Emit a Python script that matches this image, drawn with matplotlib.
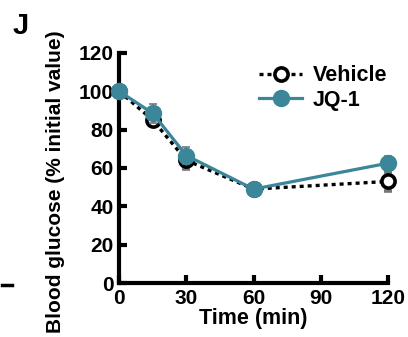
import numpy as np
import matplotlib
matplotlib.use("Agg")
from matplotlib import pyplot as plt

# データ
time = [0, 15, 30, 60, 120]
vehicle = [100, 85, 64, 49, 53]
vehicle_err = [0, 2, 4.5, 2, 5]
jq1 = [100, 88.5, 66.5, 49, 62.5]
jq1_err = [0, 5, 4.5, 2, 4]

teal = '#3b8698'
plt.rcParams['font.family'] = ['Liberation Sans', 'DejaVu Sans']
plt.rcParams['font.weight'] = 'bold'

fig = plt.figure(figsize=(4.08, 3.37), dpi=100)
ax = fig.add_axes([0.292, 0.160, 0.659, 0.683])

eb1 = ax.errorbar(time, vehicle, yerr=vehicle_err, color='black', ls=(0, (1.2, 1.2)), lw=2.4,
                  marker='o', ms=9.5, mfc='white', mec='black', mew=2.6,
                  ecolor='#777777', elinewidth=1.2, capsize=3, capthick=1.2,
                  clip_on=False, zorder=3)
eb2 = ax.errorbar(time, jq1, yerr=jq1_err, color=teal, lw=2.3,
                  marker='o', ms=11.5, mfc=teal, mec=teal,
                  ecolor='#777777', elinewidth=1.2, capsize=3, capthick=1.2,
                  clip_on=False, zorder=4)

ax.set_xlim(0, 120)
ax.set_ylim(0, 120)
ax.set_xticks([0, 30, 60, 90, 120])
ax.set_yticks(np.arange(0, 121, 20))
for s in ['top', 'right']:
    ax.spines[s].set_visible(False)
for s in ['left', 'bottom']:
    ax.spines[s].set_linewidth(3)
ax.tick_params(direction='in', length=6, width=3, labelsize=15, pad=4)
ax.set_xlabel('Time (min)', fontsize=15.5, fontweight='bold', labelpad=0)
ax.set_ylabel('Blood glucose (% initial value)', fontsize=15, fontweight='bold')
ax.yaxis.set_label_coords(-0.20, 0.44)

# 凡例はエラーバーなしで
ax.legend([eb1[0], eb2[0]], ['Vehicle', 'JQ-1'], loc='upper right',
          bbox_to_anchor=(1.07, 1.03), frameon=False, fontsize=15.5,
          handlelength=2.0, handletextpad=0.5, labelspacing=0.15)

fig.text(0.03, 0.90, 'J', fontsize=21, fontweight='bold')
fig.add_artist(plt.Line2D([0.005, 0.03], [0.155, 0.155], color='black', lw=2.5))

fig.savefig('out.png', dpi=100)
